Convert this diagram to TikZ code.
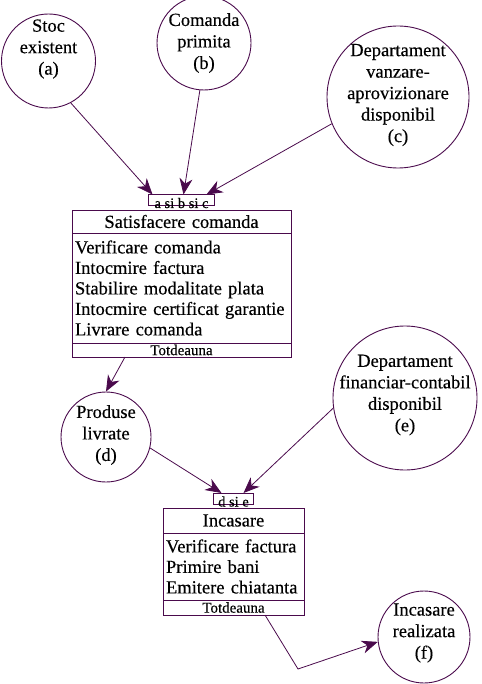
\documentclass[tikz,border=0pt]{standalone}
\usepackage{fontspec}
\setmainfont{Liberation Serif}[FakeBold=0.35]
\usepackage{tikz}
\usetikzlibrary{arrows.meta, positioning}
\definecolor{plum}{HTML}{4A0A4C}

\begin{document}
\begin{tikzpicture}[x=1pt, y=-1pt,
    circ/.style={circle, draw=plum, line width=0.9pt, inner sep=0pt},
    ctext/.style={align=center, inner sep=0pt, font=\fontsize{18.5}{21.5}\selectfont},
    btitle/.style={draw=plum, line width=0.9pt, outer sep=0pt, align=center, inner xsep=3pt, inner ysep=0pt, font=\fontsize{18.5}{20.5}\selectfont},
    bbody/.style={draw=plum, line width=0.9pt, outer sep=0pt, align=left, inner xsep=3pt, inner ysep=0pt, font=\fontsize{18.5}{20.5}\selectfont},
    bfoot/.style={draw=plum, line width=0.9pt, outer sep=0pt, align=center, inner xsep=3pt, inner ysep=0pt, font=\fontsize{15}{15}\selectfont},
    tabbox/.style={draw=plum, line width=0.9pt, outer sep=0pt, minimum height=11pt, inner sep=0pt},
    tablbl/.style={inner sep=0pt, font=\fontsize{14.5}{14.5}\selectfont},
    flow/.style={draw=plum, line width=0.8pt, -{Stealth[length=16pt, width=13pt, inset=5pt]}}]
    \useasboundingbox (0,0) rectangle (481,684);

    % intrari
    \node[circ, minimum size=94pt] (stoc) at (48.5,61) {};
    \node[ctext] (stoct) at (48.5,49) {Stoc\\existent\\(a)};
    \node[circ, minimum size=94pt] (cmd) at (204,43) {};
    \node[ctext] (cmdt) at (204,43) {Comanda\\primita\\(b)};
    \node[circ, minimum size=142pt] (dvz) at (398,97) {};
    \node[ctext] (dvzt) at (398,95) {Departament\\vanzare-\\aprovizionare\\disponibil\\(c)};

    % satisfacere comanda
    \node[btitle, text width=213pt, minimum height=23pt] (sat) at (181.5,221.5) {Satisfacere comanda};
    \node[bbody, text width=213pt, minimum height=110pt, below=0pt of sat] (satbody) {Verificare comanda\\Intocmire factura\\Stabilire modalitate plata\\Intocmire certificat garantie\\Livrare comanda};
    \node[bfoot, text width=213pt, minimum height=14pt, below=0pt of satbody] (satfoot) {Totdeauna};
    \node[tabbox, minimum width=66pt, above=4.5pt of sat] (tab1) {};
    \node[tablbl, anchor=base] (tab1l) at ([yshift=-2.5pt]tab1.south) {a si b si c};

    \node[circ, minimum size=90pt] (prod) at (106,437) {};
    \node[ctext] (prodt) at (106,435) {Produse\\livrate\\(d)};
    \node[circ, minimum size=144pt] (dfc) at (405,398) {};
    \node[ctext] (dfct) at (405,395) {Departament\\financiar-contabil\\disponibil\\(e)};

    % incasare
    \node[btitle, text width=135pt, minimum height=25pt] (inc) at (233.5,520.5) {Incasare};
    \node[bbody, text width=135pt, minimum height=67pt, below=0pt of inc] (incbody) {Verificare factura\\Primire bani\\Emitere chiatanta};
    \node[bfoot, text width=135pt, minimum height=15pt, below=0pt of incbody] (incfoot) {Totdeauna};
    \node[tabbox, minimum width=40pt, above=4pt of inc] (tab2) {};
    \node[tablbl, anchor=base] (tab2l) at ([yshift=-2.5pt]tab2.south) {d si e};

    \node[circ, minimum size=92pt] (real) at (424,637) {};
    \node[ctext] (realt) at (424,633) {Incasare\\realizata\\(f)};

    \coordinate (in1a) at ([xshift=-29pt]tab1.north);
    \coordinate (in1b) at ([xshift=2pt]tab1.north);
    \coordinate (in1c) at ([xshift=25pt]tab1.north);
    \coordinate (in2a) at ([xshift=-12pt]tab2.north);
    \coordinate (in2b) at ([xshift=10pt]tab2.north);
    \coordinate (out1) at ([xshift=-56.5pt]satfoot.south);
    \coordinate (out2) at ([xshift=31.5pt]incfoot.south);
    \coordinate (bend) at (298,669);

    \draw[flow] (stoc.298) -- (in1a);
    \draw[flow] (cmd.265) -- (in1b);
    \draw[flow] (dvz.202) -- (in1c);
    \draw[flow] (out1) -- (prod.north);
    \draw[flow] (prod.346) -- (in2a);
    \draw[flow] (dfc.188) -- (in2b);
    \draw[flow] (out2) -- (bend) -- (real.186);
\end{tikzpicture}
\end{document}
